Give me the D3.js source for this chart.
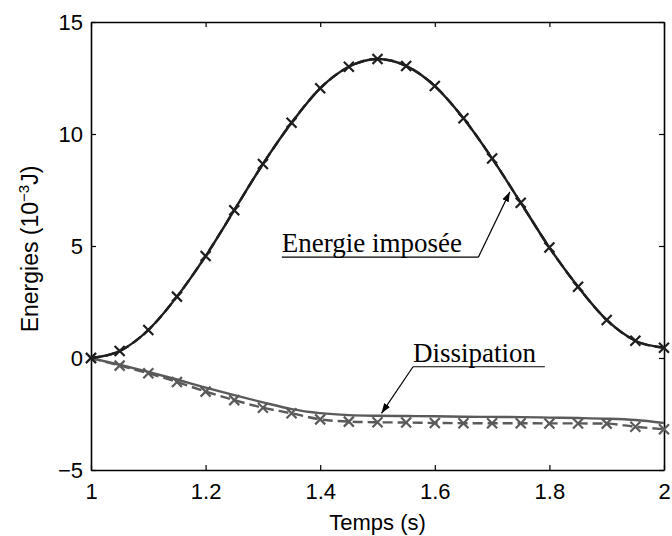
<!DOCTYPE html>
<html>
<head>
<meta charset="utf-8">
<script src="https://cdn.jsdelivr.net/npm/d3@7"></script>
<style>
  body { margin: 0; background: #fff; }
  svg { display: block; }
</style>
</head>
<body>
<div id="chart"></div>
<script>
// time samples (s)
var temps = [1.0, 1.05, 1.1, 1.15, 1.2, 1.25, 1.3, 1.35, 1.4, 1.45, 1.5,
             1.55, 1.6, 1.65, 1.7, 1.75, 1.8, 1.85, 1.9, 1.95, 2.0];

// energie imposee (1e-3 J)
var imposee = [0, 0.31, 1.25, 2.74, 4.55, 6.6, 8.66, 10.5, 12.04, 13.0, 13.35,
               13.04, 12.14, 10.7, 8.91, 6.93, 4.93, 3.18, 1.7, 0.77, 0.46];

// dissipation, solid curve
var dissipation = [0, -0.3, -0.62, -0.96, -1.32, -1.66, -1.98, -2.28, -2.46, -2.55, -2.58,
                   -2.59, -2.6, -2.62, -2.63, -2.64, -2.66, -2.68, -2.71, -2.77, -2.9];

// dissipation, dashed curve with markers
var dissipationX = [0, -0.34, -0.68, -1.07, -1.5, -1.88, -2.22, -2.47, -2.74, -2.84, -2.87,
                    -2.88, -2.9, -2.91, -2.91, -2.91, -2.92, -2.92, -2.93, -3.07, -3.18];

var xTicks = [1, 1.2, 1.4, 1.6, 1.8, 2];
var yTicks = [-5, 0, 5, 10, 15];

// annotations: label, text start (x, y), underline end x, arrow tip (x, y)
var annotations = [
  { label: "Energie imposée", x: 1.333, y: 4.75, ul: 4.5, end: 1.676, tx: 1.731, ty: 7.42 },
  { label: "Dissipation", x: 1.562, y: -0.165, ul: -0.39, end: 1.792, tx: 1.507, ty: -2.47 }
];

var margin = { top: 22, right: 8, bottom: 66, left: 91 },
    width = 672 - margin.left - margin.right,
    height = 536 - margin.top - margin.bottom;

var x = d3.scaleLinear().domain([1, 2]).range([0, width]);
var y = d3.scaleLinear().domain([-5, 15]).range([height, 0]);

var svg = d3.select("#chart").append("svg")
    .attr("width", 672)
    .attr("height", 536);

var g = svg.append("g")
    .attr("transform", "translate(" + margin.left + "," + margin.top + ")");

// clip so the lines stay in the box
g.append("clipPath").attr("id", "clip")
  .append("rect").attr("x", -6).attr("y", -6).attr("width", width + 12).attr("height", height + 12);

var tickFont = '"Liberation Sans", Arial, sans-serif';

// axes, ticks inward on all four sides
var axB = g.append("g").attr("transform", "translate(0," + height + ")")
    .call(d3.axisBottom(x).tickValues(xTicks).tickSizeInner(-5).tickSizeOuter(0).tickPadding(13)
      .tickFormat(function (d) { return d3.format("")(d); }));
var axT = g.append("g")
    .call(d3.axisTop(x).tickValues(xTicks).tickSizeInner(-5).tickSizeOuter(0).tickFormat(""));
var axL = g.append("g")
    .call(d3.axisLeft(y).tickValues(yTicks).tickSizeInner(-5).tickSizeOuter(0).tickPadding(8)
      .tickFormat(function (d) { return d < 0 ? "\u2212" + Math.abs(d) : d; }));
var axR = g.append("g").attr("transform", "translate(" + width + ",0)")
    .call(d3.axisRight(y).tickValues(yTicks).tickSizeInner(-5).tickSizeOuter(0).tickFormat(""));

[axB, axT, axL, axR].forEach(function (a) {
  a.selectAll("path").attr("stroke", "#000").attr("stroke-width", 1.6);
  a.selectAll("line").attr("stroke", "#000").attr("stroke-width", 1.2);
  a.selectAll("text").attr("fill", "#000").style("font-family", tickFont).style("font-size", "22px");
});
axB.selectAll("text").attr("dy", "0.71em");
axL.selectAll("text").attr("dy", "0.36em");

// axis titles
g.append("text")
    .attr("x", width / 2)
    .attr("y", height + 60)
    .attr("text-anchor", "middle")
    .style("font-family", tickFont)
    .style("font-size", "22px")
    .text("Temps (s)");

var yl = g.append("text")
    .attr("transform", "translate(" + (-53) + "," + (height / 2 + 3) + ") rotate(-90)")
    .attr("text-anchor", "middle")
    .style("font-family", tickFont)
    .style("font-size", "23px");
yl.append("tspan").text("Energies (10");
yl.append("tspan").attr("dy", -9).style("font-size", "15px").text("\u22123");
yl.append("tspan").attr("dy", 9).text("J)");

// series
function series(vals) {
  return temps.map(function (t, i) { return [t, vals[i]]; });
}

var line = d3.line()
    .x(function (d) { return x(d[0]); })
    .y(function (d) { return y(d[1]); })
    .curve(d3.curveMonotoneX);

var plot = g.append("g").attr("clip-path", "url(#clip)");

function drawSeries(vals, color, dashed, markers) {
  var data = series(vals);
  plot.append("path")
      .datum(data)
      .attr("fill", "none")
      .attr("stroke", color)
      .attr("stroke-width", 2.4)
      .attr("stroke-dasharray", dashed ? "10,5" : null)
      .attr("d", line);
  if (markers) {
    plot.selectAll(null)
        .data(data)
        .enter().append("path")
        .attr("transform", function (d) { return "translate(" + x(d[0]) + "," + y(d[1]) + ")"; })
        .attr("d", "M-5,-5L5,5M-5,5L5,-5")
        .attr("stroke", color)
        .attr("stroke-width", 2.2)
        .attr("fill", "none");
  }
}

drawSeries(dissipation, "#5a5a5a", false, false);
drawSeries(dissipationX, "#5a5a5a", true, true);
drawSeries(imposee, "#1e1e1e", false, false);
drawSeries(imposee, "#1e1e1e", true, true);

// annotations with arrows
svg.append("defs").append("marker")
    .attr("id", "arrow")
    .attr("viewBox", "0 0 10 10")
    .attr("refX", 10).attr("refY", 5)
    .attr("markerWidth", 10).attr("markerHeight", 10)
    .attr("markerUnits", "userSpaceOnUse")
    .attr("orient", "auto")
  .append("path")
    .attr("d", "M0,1.5L10,5L0,8.5Z")
    .attr("fill", "#000");

annotations.forEach(function (a) {
  g.append("text")
      .attr("x", x(a.x))
      .attr("y", y(a.y))
      .style("font-family", '"Liberation Serif", "Times New Roman", serif')
      .style("font-size", "27px")
      .text(a.label);
  g.append("line")
      .attr("x1", x(a.x)).attr("y1", y(a.ul))
      .attr("x2", x(a.end)).attr("y2", y(a.ul))
      .attr("stroke", "#000").attr("stroke-width", 1.2);
  var sx = a.tx > a.end ? x(a.end) : x(a.x);
  g.append("line")
      .attr("x1", sx).attr("y1", y(a.ul))
      .attr("x2", x(a.tx)).attr("y2", y(a.ty))
      .attr("stroke", "#000").attr("stroke-width", 1.2)
      .attr("marker-end", "url(#arrow)");
});
</script>
</body>
</html>
